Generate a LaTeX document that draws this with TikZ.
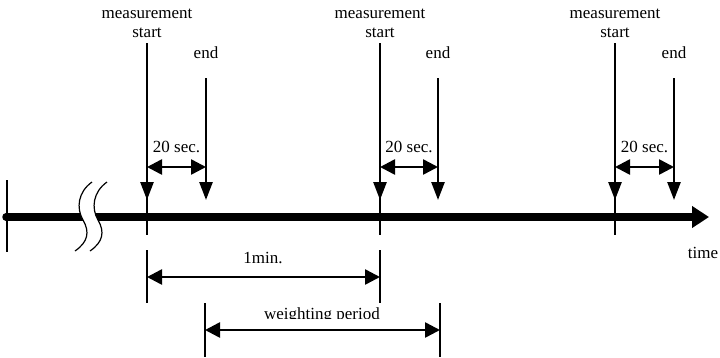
\documentclass[tikz,border=0pt]{standalone}
\usepackage{fontspec}
\setmainfont{Liberation Serif}
\usetikzlibrary{arrows.meta}
\begin{document}
\begin{tikzpicture}[x=1pt,y=-1pt,
  lbl/.style={font=\fontsize{17}{19}\selectfont, inner sep=0pt, anchor=base},
  vline/.style={line width=2.6pt, -{Triangle[length=18pt,width=13pt]}},
  dbl/.style={line width=2.6pt, {Triangle[length=15pt,width=15pt]}-{Triangle[length=15pt,width=15pt]}},
  tickline/.style={line width=1.3pt},
  axisline/.style={line width=7.5pt, line cap=round, -{Triangle[length=17pt,width=21pt]}},
  breakline/.style={line width=1.2pt}]
\useasboundingbox (0,0) rectangle (720,357);
% axis
\coordinate (ax0) at (6,217);
\coordinate (ax1) at (709,217);
\coordinate (lt0) at (7,180);
\coordinate (lt1) at (7,252);
\draw[axisline] (ax0) -- (ax1);
\draw[tickline] (lt0) -- (lt1);
% break
\coordinate (ba0) at (92,182);
\coordinate (bam) at (83,220);
\coordinate (ba1) at (75,251);
\coordinate (bb0) at (107,182);
\coordinate (bbm) at (98,220);
\coordinate (bb1) at (90,251);
\fill[white] (ba0) .. controls (78,192) and (76,208) .. (bam)
  .. controls (90,232) and (88,242) .. (ba1) -- (bb1)
  .. controls (103,242) and (105,232) .. (bbm)
  .. controls (91,208) and (93,192) .. (bb0) -- cycle;
\draw[breakline] (ba0) .. controls (78,192) and (76,208) .. (bam)
  .. controls (90,232) and (88,242) .. (ba1);
\draw[breakline] (bb0) .. controls (93,192) and (91,208) .. (bbm)
  .. controls (105,232) and (103,242) .. (bb1);
\node[lbl] (time) at (703,258) {time};
% measurement groups
\foreach \n/\s/\e in {1/147/206, 2/380/438, 3/615/674} {
  \coordinate (st\n) at (\s,43);
  \coordinate (sb\n) at (\s,200);
  \coordinate (ta\n) at (\s,190);
  \coordinate (tb\n) at (\s,235);
  \coordinate (et\n) at (\e,78);
  \coordinate (eb\n) at (\e,200);
  \node[lbl] (m\n) at (\s,18) {measurement};
  \node[lbl] (s\n) at (\s,37) {start};
  \node[lbl] (e\n) at (\e,58) {end};
  \draw[tickline] (ta\n) -- (tb\n);
  \draw[vline] (st\n) -- (sb\n);
  \draw[vline] (et\n) -- (eb\n);
  \coordinate (da\n) at (\s,167);
  \coordinate (db\n) at (\e,167);
  \draw[dbl] (da\n) -- (db\n);
  \node[lbl] (t\n) at ({(\s+\e)/2},152) {20 sec.};
}
% 1 min
\coordinate (p1a) at (147,250);
\coordinate (p1b) at (147,303);
\coordinate (p2a) at (380,250);
\coordinate (p2b) at (380,303);
\coordinate (ma) at (147,277);
\coordinate (mb) at (380,277);
\draw[tickline] (p1a) -- (p1b);
\draw[tickline] (p2a) -- (p2b);
\draw[dbl] (ma) -- (mb);
\node[lbl] (onemin) at (263,263) {1min.};
% weighting period
\coordinate (q1a) at (205,303);
\coordinate (q1b) at (205,357);
\coordinate (q2a) at (440,303);
\coordinate (q2b) at (440,357);
\coordinate (wa) at (205,330);
\coordinate (wb) at (440,330);
\draw[tickline] (q1a) -- (q1b);
\draw[tickline] (q2a) -- (q2b);
\draw[dbl] (wa) -- (wb);
\begin{scope}
  \clip (0,0) rectangle (720,318);
  \node[lbl] (wp) at (322,319) {weighting period};
\end{scope}
\end{tikzpicture}
\end{document}
